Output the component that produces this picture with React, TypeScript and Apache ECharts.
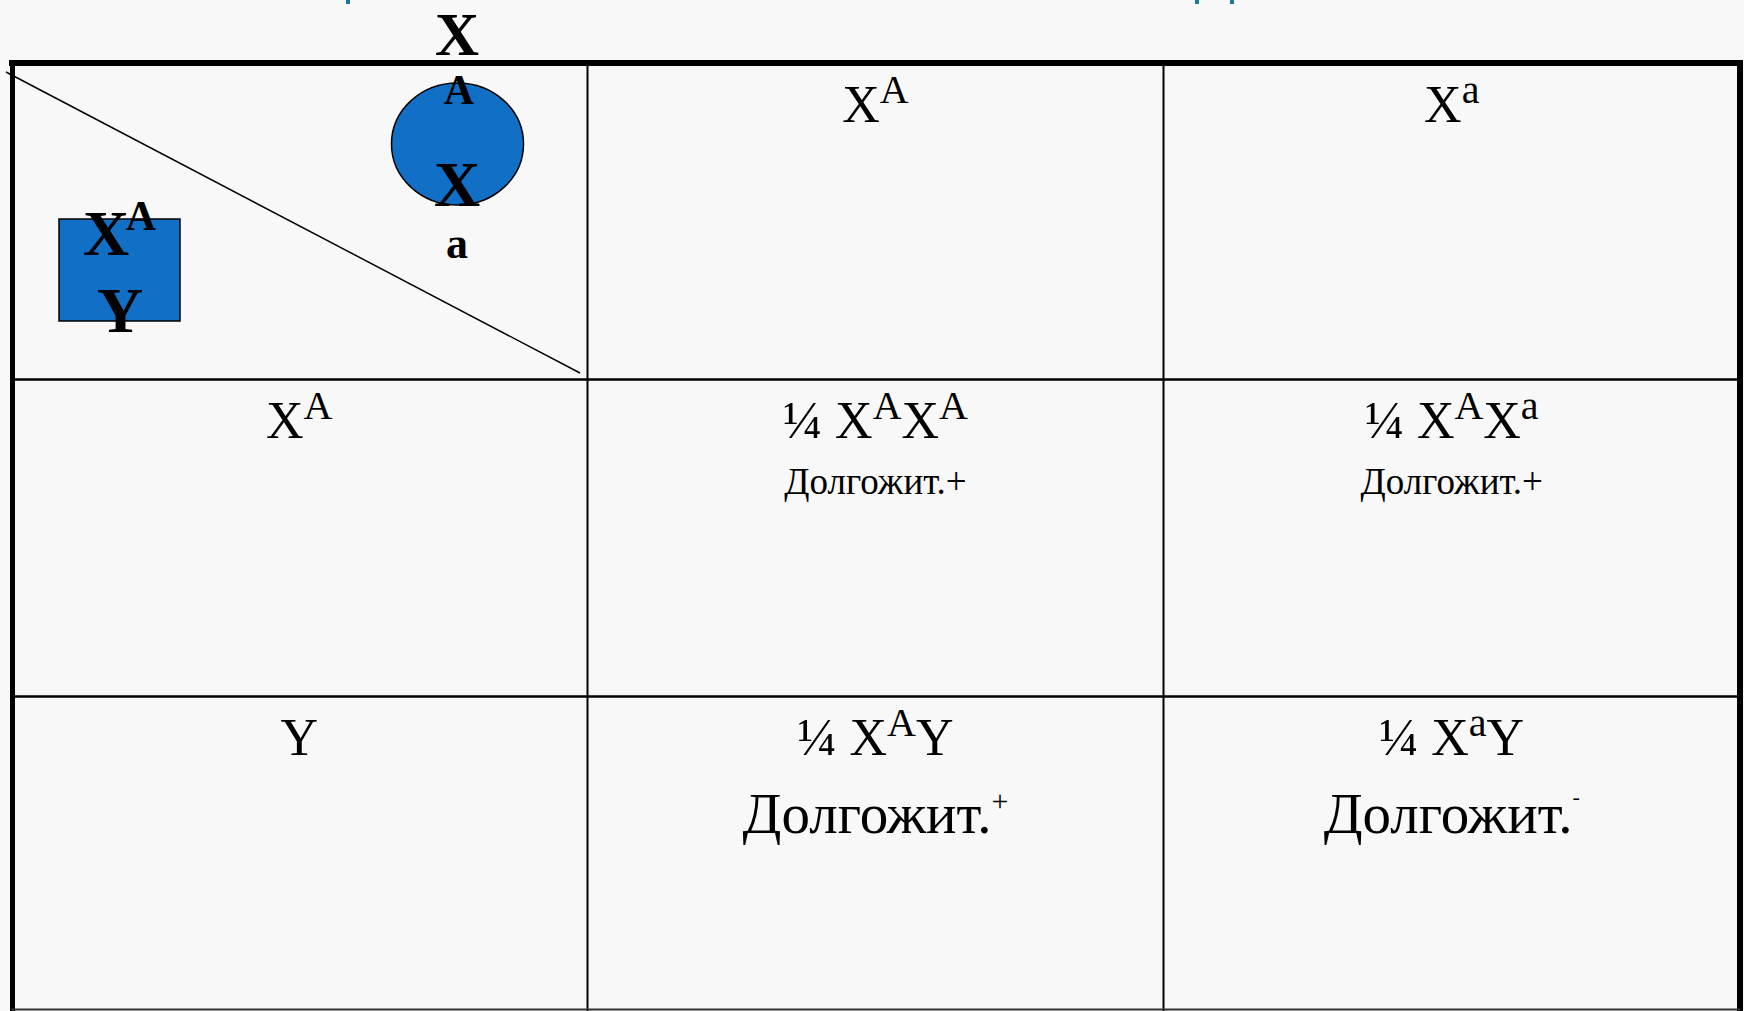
import React, { useEffect, useRef } from "react";
import * as echarts from "echarts";

// ---- Data ----
const femaleGametes: [string, string][] = [["X", "A"], ["X", "a"]]; // column headers
const maleGametes: [string, string][] = [["X", "A"], ["Y", ""]]; // row headers
const fraction = "¼";
const genotypes: [string, string][][][] = [
  [
    [["X", "A"], ["X", "A"]],
    [["X", "A"], ["X", "a"]],
  ],
  [
    [["X", "A"], ["Y", ""]],
    [["X", "a"], ["Y", ""]],
  ],
];
const phenotypeWord = "Долгожит.";
const phenotypeSigns: string[][] = [
  ["+", "+"],
  ["+", "-"],
];
const femaleParent = ["X", "A", "X", "a"];
const maleParent = ["X", "A", "Y"];

// ---- Layout ----
const W = 1744;
const H = 1011;
const COLS = [11, 587.5, 1163.5, 1740];
const ROWS = [63, 379.5, 696.5, 1011];
const FONT = '"Liberation Serif", "Times New Roman", serif';
const BLUE = "#1170C6";

const richStyles = {
  b: { fontFamily: FONT, fontSize: 52, lineHeight: 61, verticalAlign: "bottom", fill: "#000" },
  s: { fontFamily: FONT, fontSize: 40, lineHeight: 40, verticalAlign: "top", fill: "#000" },
  w: { fontFamily: FONT, fontSize: 57, lineHeight: 56, verticalAlign: "bottom", fill: "#000" },
  p: { fontFamily: FONT, fontSize: 30, lineHeight: 28, verticalAlign: "top", fill: "#000" },
  n: { fontFamily: FONT, fontSize: 22, lineHeight: 22, verticalAlign: "top", fill: "#000" },
  m: { fontFamily: FONT, fontSize: 37, lineHeight: 37, verticalAlign: "middle", fill: "#000" },
};

function gam(g: [string, string]) {
  return g[1] ? `{b|${g[0]}}{s|${g[1]}}` : `{b|${g[0]}}`;
}

function richText(x: number, y: number, text: string) {
  return {
    type: "text",
    x,
    y,
    z: 10,
    style: {
      text,
      rich: richStyles,
      fontFamily: FONT,
      fontSize: 52,
      fill: "#000",
      align: "center",
      verticalAlign: "middle",
    },
  };
}

function boldText(x: number, y: number, text: string, size: number) {
  return {
    type: "text",
    x,
    y,
    z: 10,
    style: {
      text,
      fontFamily: FONT,
      fontWeight: "bold",
      fontSize: size,
      lineHeight: Math.round(size * 0.9),
      fill: "#000",
      align: "center",
      verticalAlign: "middle",
    },
  };
}

function line(x1: number, y1: number, x2: number, y2: number, lw: number, color = "#000") {
  return {
    type: "line",
    z: 5,
    shape: { x1, y1, x2, y2 },
    style: { stroke: color, lineWidth: lw },
  };
}

export default function App() {
  const ref = useRef<HTMLDivElement>(null);

  useEffect(() => {
    if (!ref.current) return;
    const chart = echarts.init(ref.current, undefined, { renderer: "svg" });
    const colCenter = (c: number) => (COLS[c] + COLS[c + 1]) / 2;
    const elements: any[] = [];

    // fragments of a cut-off title at the very top
    [346, 1195, 1230].forEach((x) =>
      elements.push({
        type: "rect",
        z: 2,
        shape: { x, y: 0, width: 4, height: 4 },
        style: { fill: "#1b7a9c" },
      })
    );

    // grid lines
    elements.push(line(COLS[1], ROWS[0], COLS[1], H, 2));
    elements.push(line(COLS[2], ROWS[0], COLS[2], H, 2));
    elements.push(line(COLS[0], ROWS[1], COLS[3], ROWS[1], 2.5));
    elements.push(line(COLS[0], ROWS[2], COLS[3], ROWS[2], 2.5));
    // outer frame
    elements.push(line(9, ROWS[0], W - 1, ROWS[0], 6));
    elements.push(line(12.5, 60, 12.5, H, 5));
    elements.push(line(1740, 60, 1740, H, 6));
    elements.push(line(COLS[0], 1009.5, COLS[3], 1009.5, 2, "#333"));

    // diagonal in the corner cell
    elements.push(line(6, 72, 580, 373, 1.5));

    // parent symbols
    elements.push({
      type: "ellipse",
      z: 6,
      shape: { cx: 457.5, cy: 144, rx: 66, ry: 61 },
      style: { fill: BLUE, stroke: "#000", lineWidth: 1.5 },
    });
    elements.push({
      type: "rect",
      z: 6,
      shape: { x: 59, y: 219, width: 121, height: 102 },
      style: { fill: BLUE, stroke: "#000", lineWidth: 1.5 },
    });

    // female parent genotype (stacked)
    elements.push(boldText(457, 34, femaleParent[0], 61));
    elements.push(boldText(459, 90, femaleParent[1], 42));
    elements.push(boldText(457, 184, femaleParent[2], 64));
    elements.push(boldText(457, 243, femaleParent[3], 44));
    // male parent genotype
    elements.push(boldText(106, 233, maleParent[0], 64));
    elements.push(boldText(141, 216, maleParent[1], 42));
    elements.push(boldText(120, 310, maleParent[2], 64));

    const GEN_Y = 36.5;
    // column headers
    femaleGametes.forEach((g, c) => {
      elements.push(richText(colCenter(c + 1), ROWS[0] + GEN_Y, gam(g)));
    });
    // row headers
    maleGametes.forEach((g, r) => {
      elements.push(richText(colCenter(0), ROWS[r + 1] + GEN_Y, gam(g)));
    });
    // offspring cells
    genotypes.forEach((row, r) => {
      row.forEach((cell, c) => {
        const cx = colCenter(c + 1);
        const top = ROWS[r + 1];
        const txt = `{b|${fraction} }` + cell.map(gam).join("");
        elements.push(richText(cx, top + GEN_Y, txt));
        const sign = phenotypeSigns[r][c];
        if (r === 0) {
          elements.push(richText(cx, top + 102, `{m|${phenotypeWord}${sign}}`));
        } else {
          const supStyle = sign === "-" ? "n" : "p";
          elements.push(
            richText(cx, top + 117, `{w|${phenotypeWord}}{${supStyle}|${sign}}`)
          );
        }
      });
    });

    chart.setOption({
      animation: false,
      backgroundColor: "#f8f8f8",
      graphic: { elements },
    });

    return () => chart.dispose();
  }, []);

  return (
    <div
      ref={ref}
      style={{ position: "fixed", left: 0, top: 0, width: W, height: H }}
    />
  );
}
